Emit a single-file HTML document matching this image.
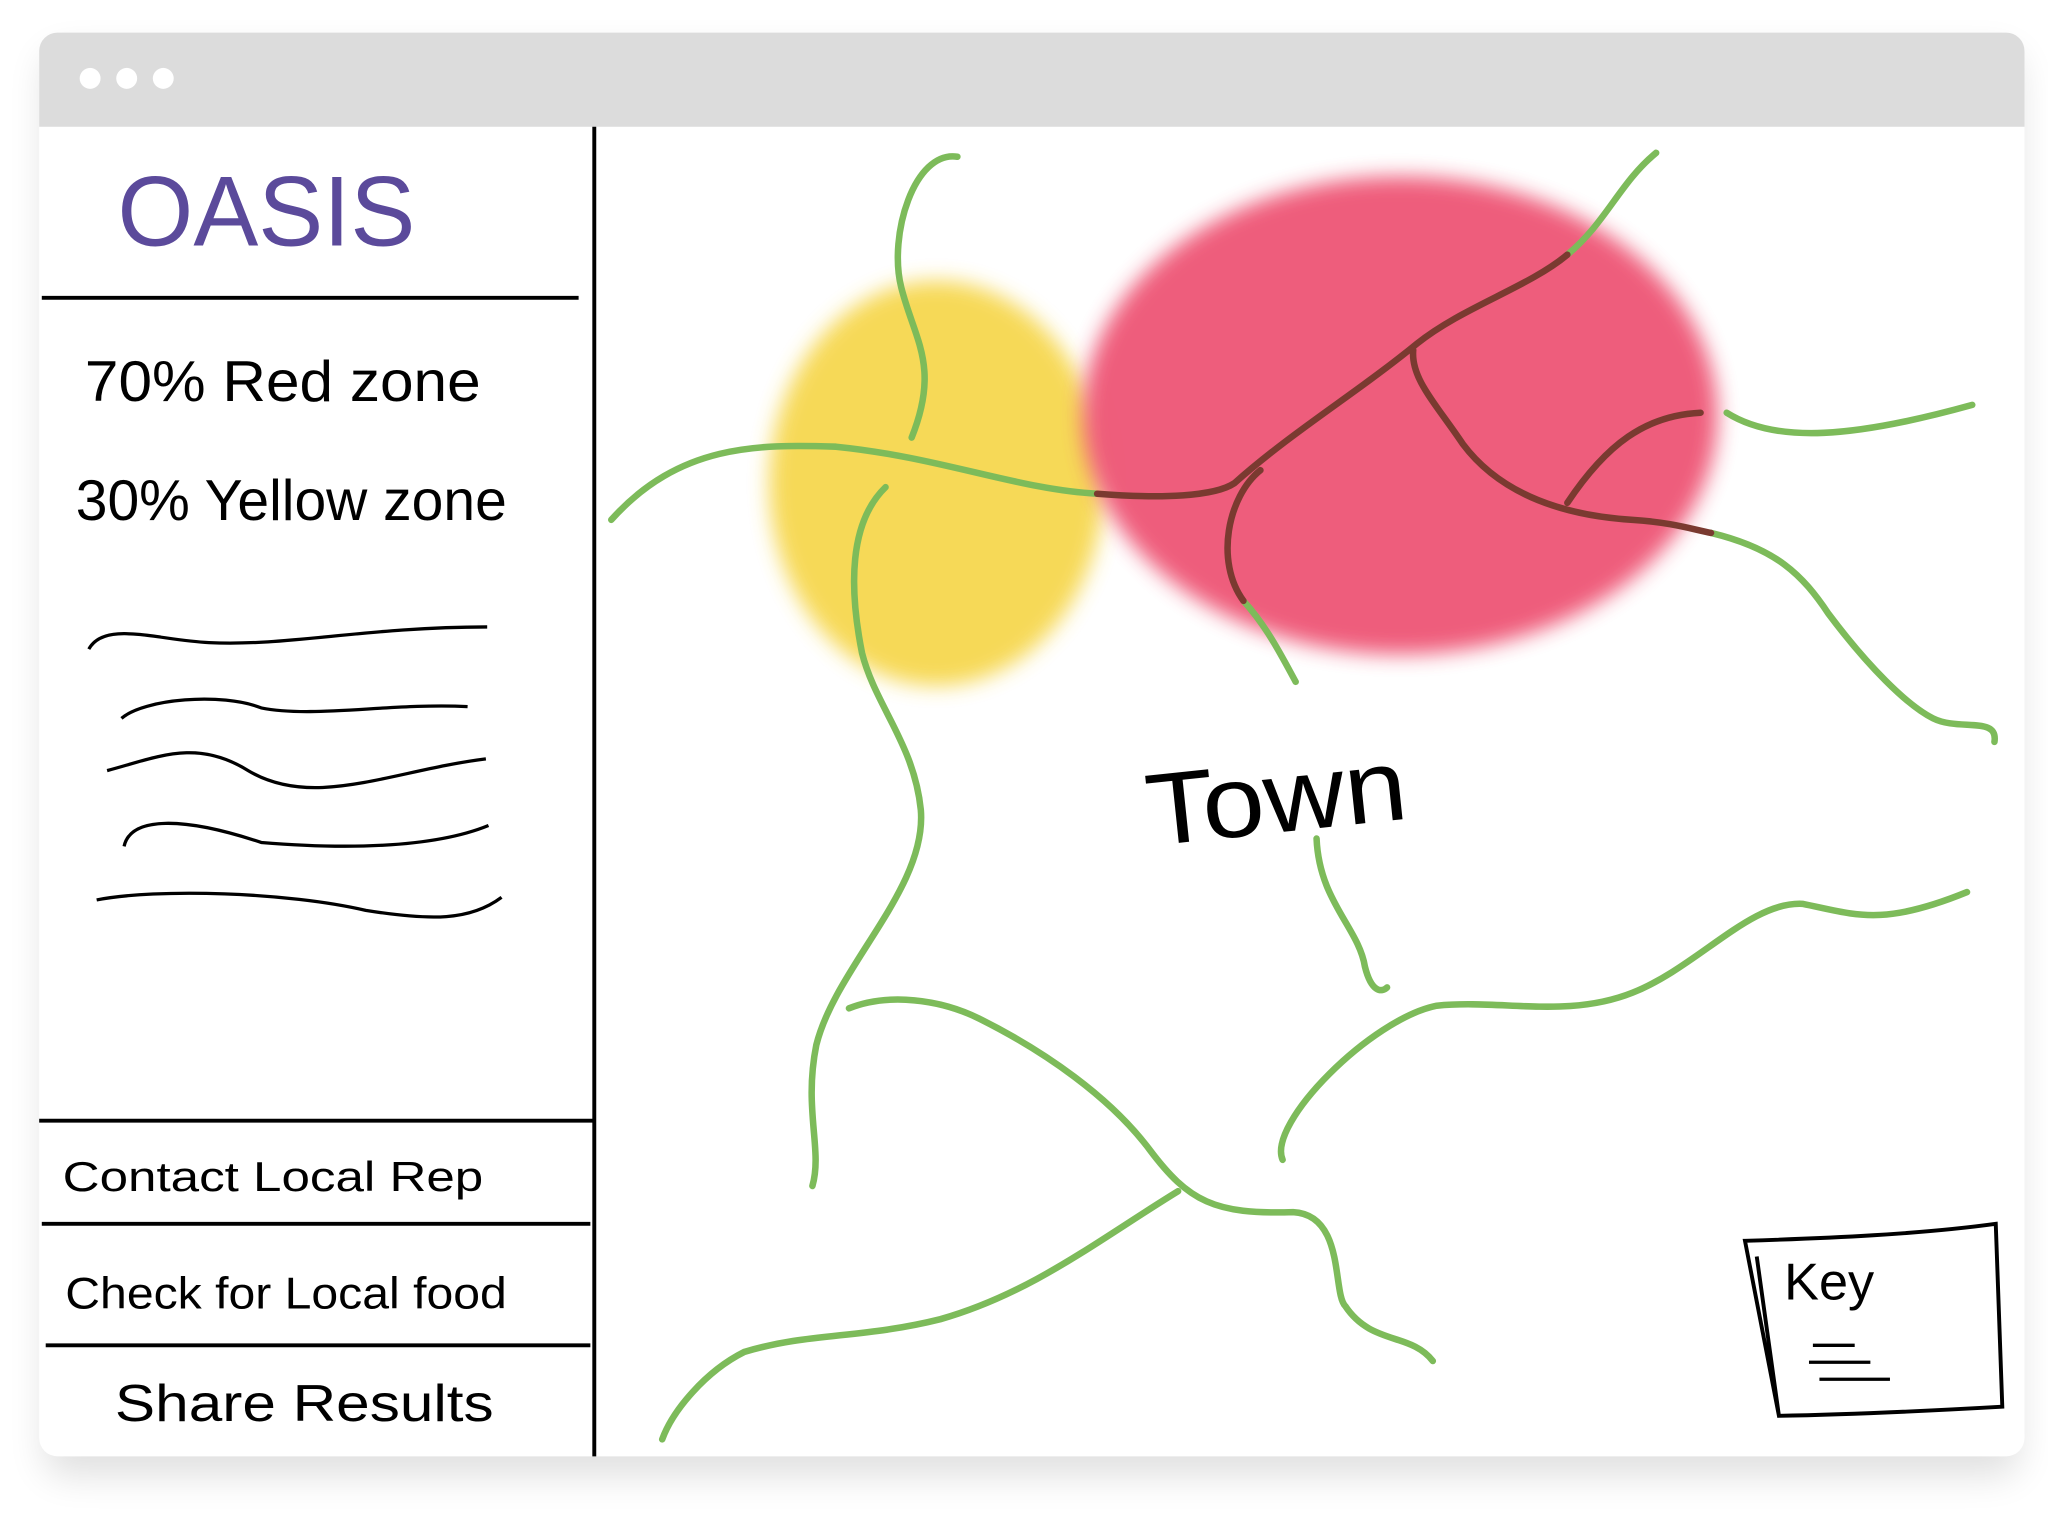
<!DOCTYPE html>
<html><head><meta charset="utf-8"><style>
html,body{margin:0;padding:0;background:#fff;}
svg{display:block;}
text{font-family:"Liberation Sans",sans-serif;}
</style></head><body>
<svg width="2048" height="1536" viewBox="0 0 1568 1176" xmlns="http://www.w3.org/2000/svg">
<defs>
<filter id="sh" x="-5%" y="-5%" width="110%" height="115%"><feGaussianBlur stdDeviation="14"/></filter>
<filter id="bl" x="-30%" y="-30%" width="160%" height="160%"><feGaussianBlur stdDeviation="8"/></filter>
</defs>
<rect x="34" y="40" width="1512" height="1090" rx="16" fill="#000" opacity="0.12" filter="url(#sh)"/>
<g>
<rect x="30" y="25" width="1520" height="1090" rx="14" fill="#fff"/>
<path d="M30 97 V39 a14 14 0 0 1 14 -14 H1536 a14 14 0 0 1 14 14 V97 Z" fill="#dcdcdc"/>
<circle cx="69" cy="60" r="8" fill="#fff"/>
<circle cx="97" cy="60" r="8" fill="#fff"/>
<circle cx="125" cy="60" r="8" fill="#fff"/>
</g>
<g stroke="#000" stroke-width="3" fill="none">
<path d="M455 97 V1115"/>
<path d="M32 228 H443"/>
<path d="M30 858 H455"/>
<path d="M32 937 H452"/>
<path d="M35 1030 H452"/>
</g>
<text x="90" y="188" font-size="76" fill="#5b4a9b" textLength="228" lengthAdjust="spacingAndGlyphs">OASIS</text>
<text x="65" y="307" font-size="44" fill="#000" textLength="303" lengthAdjust="spacingAndGlyphs">70%  Red  zone</text>
<text x="58" y="398" font-size="44" fill="#000" textLength="330" lengthAdjust="spacingAndGlyphs">30%  Yellow  zone</text>
<g stroke="#000" stroke-width="2.5" fill="none">
<path d="M68 497 C80 475 120 490 160 492 C220 495 280 480 373 480"/>
<path d="M93 550 C110 535 170 530 200 542 C240 550 300 538 358 541"/>
<path d="M82 590 C120 580 150 565 190 590 C240 620 300 590 372 581"/>
<path d="M95 648 C100 625 140 625 200 645 C260 650 330 650 374 632"/>
<path d="M74 689 C120 680 220 683 280 697 C330 705 360 705 384 687"/>
</g>
<text x="48" y="912" font-size="32" fill="#000" textLength="322" lengthAdjust="spacingAndGlyphs">Contact  Local  Rep</text>
<text x="50" y="1002" font-size="34" fill="#000" textLength="338" lengthAdjust="spacingAndGlyphs">Check  for Local  food</text>
<text x="88" y="1088" font-size="40" fill="#000" textLength="290" lengthAdjust="spacingAndGlyphs">Share  Results</text>
<g>
<ellipse cx="717" cy="370" rx="128" ry="155" fill="#f6d64a" opacity="0.92" filter="url(#bl)"/>
<ellipse cx="1072" cy="318" rx="243" ry="183" fill="#ee5575" opacity="0.95" filter="url(#bl)"/>
<g stroke="#7dbb5a" stroke-width="5" fill="none" stroke-linecap="round">
<path d="M733 120 C700 115 680 180 690 220 C700 260 720 280 698 335"/>
<path d="M468 398 C520 340 580 340 640 342 C720 350 780 375 840 378"/>
<path d="M678 373 C650 400 650 450 660 500 C670 540 700 570 705 620 C710 680 640 740 625 800 C615 850 630 880 622 908"/>
<path d="M1268 117 C1240 140 1230 170 1200 195"/>
<path d="M1322 316 C1360 340 1420 335 1510 310"/>
<path d="M1310 408 C1360 420 1380 440 1400 470 C1430 510 1460 540 1480 550 C1500 560 1530 548 1527 568"/>
<path d="M952 460 C970 480 980 500 992 522"/>
<path d="M1008 642 C1010 690 1040 710 1045 740 C1050 760 1058 760 1062 756"/>
<path d="M650 772 C680 760 720 765 750 780 C800 805 850 840 880 880 C910 920 930 930 990 928 C1030 930 1020 990 1030 1000 C1050 1030 1080 1020 1097 1042"/>
<path d="M902 912 C840 950 790 990 720 1010 C660 1025 620 1020 570 1035 C540 1050 515 1080 507 1102"/>
<path d="M982 888 C970 860 1050 780 1100 770 C1150 765 1200 780 1250 760 C1300 740 1340 690 1380 692 C1420 700 1440 710 1506 683"/>
</g>
<g stroke="#7a3a30" stroke-width="5" fill="none" stroke-linecap="round">
<path d="M840 378 C890 382 930 380 945 370 C990 330 1040 300 1085 263 C1120 235 1170 220 1200 195"/>
<path d="M965 360 C940 380 930 430 952 460"/>
<path d="M1082 268 C1080 290 1100 310 1120 340 C1150 380 1200 395 1250 398 C1280 400 1295 405 1310 408"/>
<path d="M1302 316 C1260 318 1230 340 1200 385"/>
</g>
<text x="876" y="638" font-size="78" fill="#000" textLength="200" lengthAdjust="spacingAndGlyphs" transform="rotate(-6 970 600)">Town</text>
<g>
<path d="M1336 950 C1400 948 1470 945 1528 937 L1533 1077 C1480 1080 1420 1083 1362 1084 Z M1345 962 L1362 1084" stroke="#000" stroke-width="3" fill="none"/>
<text x="1366" y="995" font-size="40" fill="#000">Key</text>
<path d="M1388 1030 H1420 M1385 1043 H1432 M1393 1056 H1447" stroke="#000" stroke-width="2.5"/>
</g>
</g>
</svg>
</body></html>
